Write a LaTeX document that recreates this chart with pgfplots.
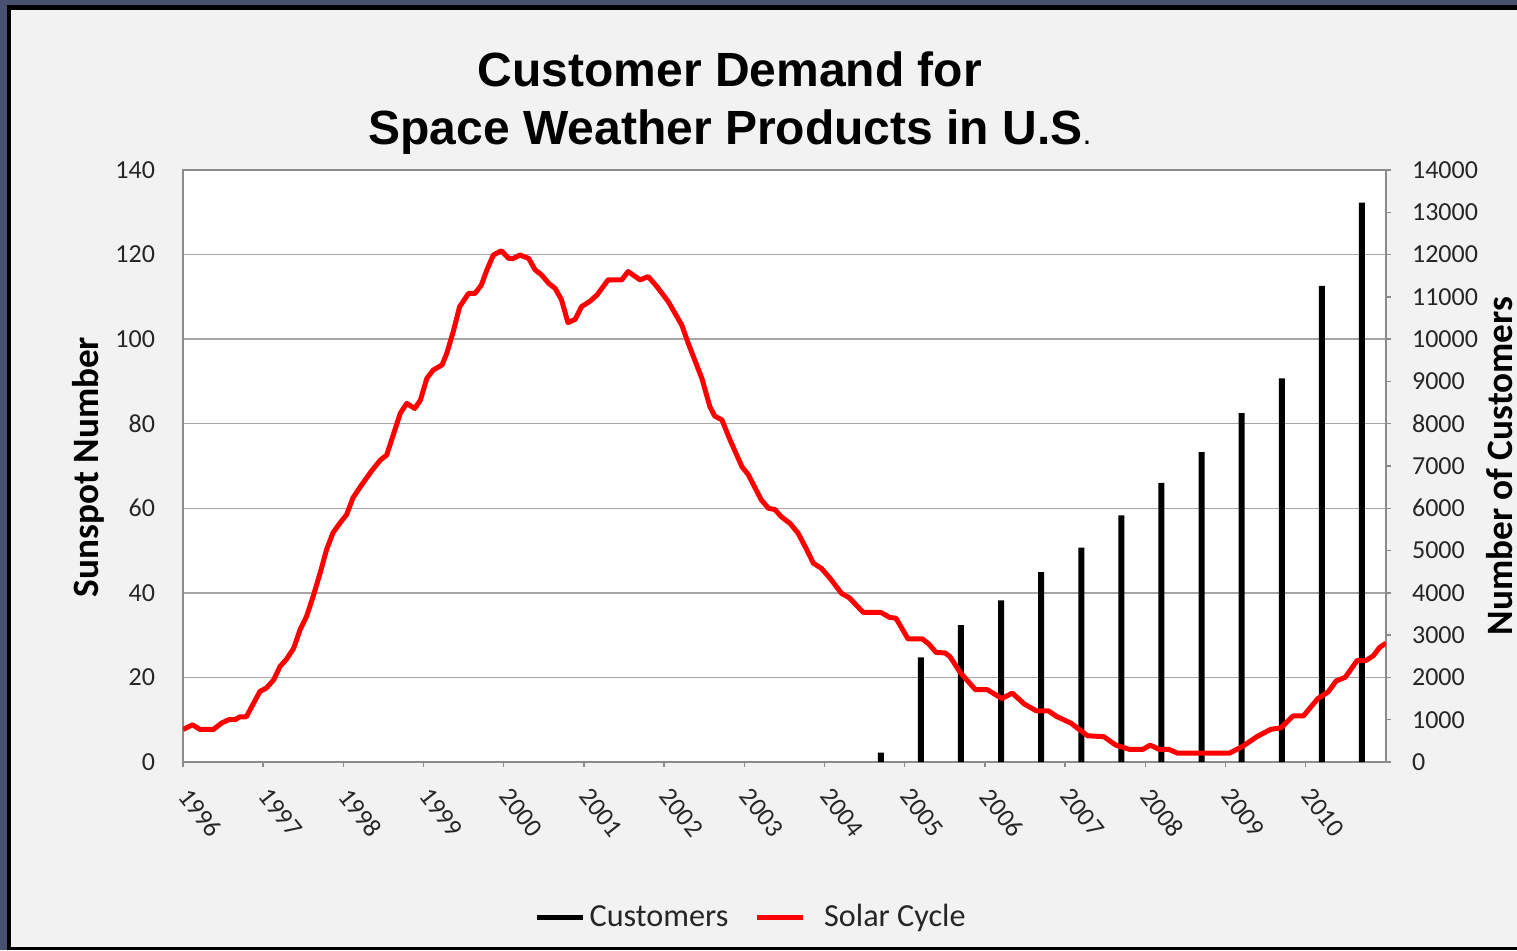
\documentclass[border=0pt]{standalone}
\usepackage{fontspec}
\setmainfont{Carlito}
\newfontfamily\titlefont{Liberation Sans}
\usepackage{pgfplots}
\usepackage{pgfplotstable}
\pgfplotsset{compat=1.18}
\definecolor{bgc}{HTML}{F2F2F2}
\definecolor{gridc}{HTML}{A6A6A6}
\definecolor{axc}{HTML}{8C8C8C}
\definecolor{txtc}{HTML}{262626}
\definecolor{slate}{HTML}{4A5070}

\pgfplotstableread{
year sunspot
1996.00 7.7
1996.12 8.8
1996.21 7.7
1996.38 7.7
1996.48 9.2
1996.57 10.0
1996.65 10.0
1996.71 10.7
1996.79 10.7
1996.88 13.9
1996.96 16.7
1997.04 17.5
1997.13 19.4
1997.21 22.6
1997.29 24.3
1997.38 26.9
1997.46 31.3
1997.54 34.4
1997.63 39.6
1997.71 44.7
1997.79 50.2
1997.87 54.2
1997.96 56.6
1998.04 58.5
1998.12 62.5
1998.23 65.6
1998.35 68.8
1998.46 71.4
1998.54 72.6
1998.71 82.5
1998.79 84.8
1998.89 83.6
1998.96 85.6
1999.04 90.7
1999.12 92.7
1999.23 93.9
1999.29 96.7
1999.37 101.8
1999.45 107.7
1999.56 110.8
1999.64 110.8
1999.72 112.8
1999.79 116.4
1999.87 119.9
1999.97 120.9
2000.06 119.1
2000.12 119.1
2000.20 119.9
2000.31 119.1
2000.39 116.4
2000.47 115.2
2000.56 113.2
2000.64 112.0
2000.72 109.3
2000.80 103.9
2000.89 104.7
2000.97 107.7
2001.07 108.9
2001.16 110.4
2001.30 114.0
2001.47 114.0
2001.55 116.0
2001.70 114.0
2001.80 114.8
2001.91 112.4
2002.05 108.9
2002.22 103.3
2002.30 99.0
2002.47 90.7
2002.57 84.0
2002.63 81.8
2002.72 80.9
2002.82 76.2
2002.97 69.8
2003.05 67.9
2003.21 62.0
2003.30 60.0
2003.38 59.7
2003.46 58.0
2003.57 56.4
2003.67 54.1
2003.77 50.5
2003.86 47.0
2003.96 45.8
2004.07 43.4
2004.21 39.9
2004.31 38.8
2004.48 35.4
2004.70 35.4
2004.81 34.2
2004.89 34.0
2005.04 29.1
2005.22 29.1
2005.30 27.9
2005.39 25.9
2005.50 25.8
2005.56 25.0
2005.69 21.2
2005.88 17.1
2006.03 17.1
2006.21 15.0
2006.34 16.3
2006.49 13.7
2006.64 12.1
2006.79 12.1
2006.89 10.8
2007.07 9.2
2007.28 6.2
2007.48 6.0
2007.63 4.0
2007.80 3.0
2007.97 3.0
2008.06 4.0
2008.17 3.0
2008.29 3.0
2008.40 2.1
2009.05 2.1
2009.22 3.8
2009.39 6.0
2009.56 7.7
2009.69 8.1
2009.84 10.9
2009.97 10.9
2010.15 15.0
2010.28 16.6
2010.38 19.2
2010.49 20.0
2010.64 24.0
2010.75 24.0
2010.84 25.1
2010.92 27.1
2011.00 28.1
}\sunspots

\pgfplotstableread{
year customers
2004.70 220
2005.20 2475
2005.70 3240
2006.20 3820
2006.70 4490
2007.20 5070
2007.70 5830
2008.20 6600
2008.70 7330
2009.20 8250
2009.70 9075
2010.20 11260
2010.70 13230
}\customers

\begin{document}
\begin{tikzpicture}
\fill[slate] (0pt,0pt) rectangle (758.5pt,475pt);
\useasboundingbox (0pt,0pt) rectangle (758.5pt,475pt);
\fill[black] (3.5pt,0pt) rectangle (758.5pt,472.5pt);
\fill[bgc] (5.5pt,1.5pt) rectangle (758.5pt,470pt);

% Axis 1: left scale, grid, x ticks
\begin{axis}[
  at={(91.5pt,94pt)}, anchor=south west,
  scale only axis, width=601.5pt, height=296pt,
  xmin=1996, xmax=2011, ymin=0, ymax=140,
  axis background/.style={fill=white},
  xtick={1996,1997,...,2010},
  xticklabels={1996,1997,1998,1999,2000,2001,2002,2003,2004,2005,2006,2007,2008,2009,2010},
  ytick={0,20,...,140},
  ymajorgrids, grid style={gridc, line width=0.7pt},
  axis line style={axc, line width=0.8pt},
  tick align=outside, major tick length=2.5pt,
  xtick pos=bottom, ytick pos=left,
  x tick style={axc, line width=0.7pt},
  y tick style={draw=none},
  /pgf/number format/assume math mode=true,
  tick label style={font=\fontsize{13}{14}\selectfont, text=txtc},
  yticklabel style={xshift=-8pt},
  xticklabel style={rotate=-52, anchor=north west, xshift=6.6pt, yshift=0.6pt},
]
\end{axis}

% Axis 2: right scale, bars, legend
\begin{axis}[
  at={(91.5pt,94pt)}, anchor=south west,
  scale only axis, width=601.5pt, height=296pt,
  xmin=1996, xmax=2011, ymin=0, ymax=14000,
  axis x line=none, axis y line*=right,
  ytick={0,1000,...,14000},
  scaled y ticks=false,
  axis line style={axc, line width=0.8pt},
  tick align=outside, major tick length=2.5pt,
  y tick style={axc, line width=0.7pt},
  /pgf/number format/assume math mode=true,
  /pgf/number format/1000 sep={},
  tick label style={font=\fontsize{13}{14}\selectfont, text=txtc},
  yticklabel style={xshift=7pt},
  legend style={draw=none, fill=none, at={(0.473,-0.262)}, anchor=center,
    font=\fontsize{16.1}{18}\selectfont, text=txtc},
  legend columns=2,
  /tikz/every even column/.append style={column sep=11pt},
]
\addplot[ybar, bar width=3pt, fill=black, draw=none,
  legend image code/.code={\draw[black, line width=2.6pt] (-2pt,0pt) -- (21pt,0pt);}]
  table[x=year, y=customers] {\customers};
\addlegendentry{Customers}
\addlegendimage{legend image code/.code={\draw[red, line width=2.6pt] (-2pt,0pt) -- (21pt,0pt);}}
\addlegendentry{\ \ Solar Cycle}
\end{axis}

% Axis 3: red line on top
\begin{axis}[
  at={(91.5pt,94pt)}, anchor=south west,
  scale only axis, width=601.5pt, height=296pt,
  xmin=1996, xmax=2011, ymin=0, ymax=140,
  hide axis,
]
\addplot[red, line width=2.5pt, line join=round, mark=none] table[x=year, y=sunspot] {\sunspots};
\end{axis}

\node[anchor=base, font=\titlefont\bfseries\fontsize{24}{28}\selectfont] at (365pt,431.5pt) {Customer Demand for};
\node[anchor=base, font=\titlefont\bfseries\fontsize{24}{28}\selectfont] at (365pt,402.5pt) {Space Weather Products in U.S{\mdseries\fontsize{16}{18}\selectfont .}};

\node[rotate=90, font=\bfseries\fontsize{18.6}{20}\selectfont, text=black] at (44pt,241.5pt) {Sunspot Number};
\node[rotate=90, font=\bfseries\fontsize{18.6}{20}\selectfont, text=black] at (750pt,242pt) {Number of Customers};
\end{tikzpicture}
\end{document}
